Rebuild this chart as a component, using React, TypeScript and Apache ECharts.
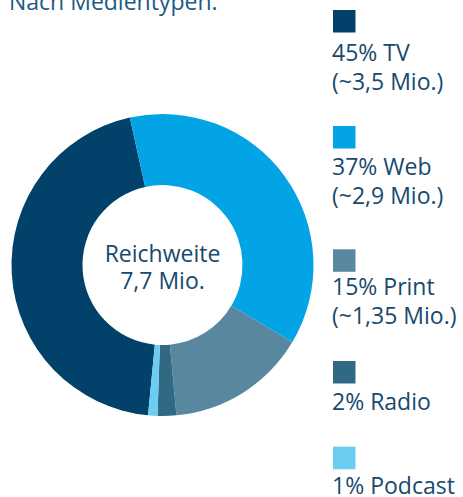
import React, { useEffect, useRef } from "react";
import * as echarts from "echarts";

const categories = ["TV", "Web", "Print", "Radio", "Podcast"];
const shares = [45, 37, 15, 2, 1];
const reachLabels = ["~3,5 Mio.", "~2,9 Mio.", "~1,35 Mio.", "", ""];
const colors = ["#01416a", "#03a4e6", "#5a87a0", "#316884", "#6ccdf2"];
const titleText = "Nach Medientypen:";
const centerText = ["Reichweite", "7,7 Mio."];

const FONT = "'Open Sans', 'Noto Sans', sans-serif";
const TEXT_COLOR = "#17496e";
const FS = 23;
const LH = 28.5;
const BASE_OFF = 0.388 * FS; // baseline below line middle
const legendSquareTops = [10, 126, 249.3, 361, 446.7];
const legendBaselines = [61, 175, 295, 410, 494.3];

export default function App() {
  const ref = useRef<HTMLDivElement>(null);
  useEffect(() => {
    document.body.style.margin = "0";
    const chart = echarts.init(ref.current!, null, { renderer: "svg" });
    const legendGraphics: any[] = [];
    categories.forEach((c, i) => {
      legendGraphics.push({
        type: "rect",
        shape: { x: 333, y: legendSquareTops[i], width: 22.5, height: 22.5 },
        style: { fill: colors[i] },
      });
      const lines = [`${shares[i]}% ${c}`];
      if (reachLabels[i]) lines.push(`(${reachLabels[i]})`);
      legendGraphics.push({
        type: "text",
        x: 332,
        y: legendBaselines[i] - BASE_OFF - LH / 2,
        style: {
          text: lines.join("\n"),
          fontFamily: FONT,
          fontSize: FS,
          lineHeight: LH,
          fill: TEXT_COLOR,
          align: "left",
          verticalAlign: "top",
        },
      });
    });
    chart.setOption({
      animation: false,
      graphic: [
        {
          type: "text",
          x: 9,
          y: 10 - BASE_OFF,
          style: {
            text: titleText,
            fontFamily: FONT,
            fontSize: FS,
            fill: "#1d5a85",
            align: "left",
            verticalAlign: "middle",
          },
        },
        {
          type: "text",
          x: 162.5,
          y: 266.5,
          z: 10,
          style: {
            text: centerText.join("\n"),
            fontFamily: FONT,
            fontSize: FS,
            lineHeight: 27.3,
            fill: TEXT_COLOR,
            align: "center",
            verticalAlign: "middle",
          },
        },
        ...legendGraphics,
      ],
      series: [
        {
          type: "pie",
          center: [162.5, 265],
          radius: [80, 151],
          startAngle: 264.5,
          clockwise: true,
          label: { show: false },
          labelLine: { show: false },
          emphasis: { disabled: true },
          itemStyle: { borderWidth: 0 },
          data: categories.map((c, i) => ({
            name: c,
            value: shares[i],
            itemStyle: { color: colors[i] },
          })),
        },
      ],
    });
    return () => chart.dispose();
  }, []);
  return <div ref={ref} style={{ width: 463, height: 497 }} />;
}
